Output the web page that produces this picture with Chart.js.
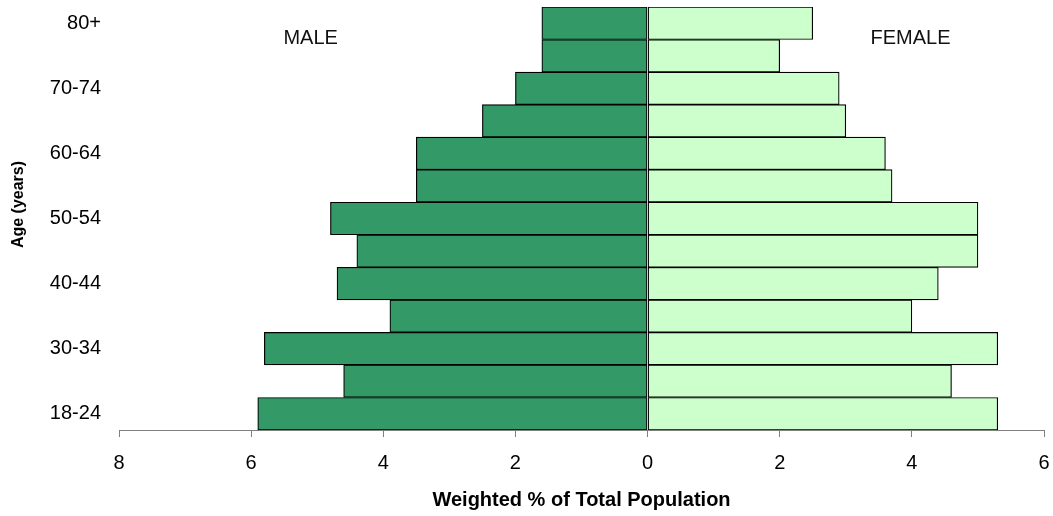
<!DOCTYPE html>
<html>
<head>
<meta charset="utf-8">
<script src="https://cdn.jsdelivr.net/npm/chart.js@4.4.0/dist/chart.umd.min.js"></script>
<style>
  html, body { margin: 0; padding: 0; background: #fff; }
  #wrap { width: 1053px; height: 516px; }
</style>
</head>
<body>
<div id="wrap"><canvas id="pyramid"></canvas></div>
<script>
// Age groups, youngest first (drawn at the bottom)
const ageGroups = ['18-24', '25-29', '30-34', '35-39', '40-44', '45-49', '50-54',
                   '55-59', '60-64', '65-69', '70-74', '75-79', '80+'];
// Weighted % of total population
const maleValues = [5.9, 4.6, 5.8, 3.9, 4.7, 4.4, 4.8, 3.5, 3.5, 2.5, 2.0, 1.6, 1.6];
const femaleValues = [5.3, 4.6, 5.3, 4.0, 4.4, 5.0, 5.0, 3.7, 3.6, 3.0, 2.9, 2.0, 2.5];
const xTicks = { min: -8, max: 6, step: 2 };

const FONT = "'Liberation Sans', Arial, sans-serif";
Chart.defaults.color = '#000';
Chart.defaults.font.family = FONT;

// MALE / FEMALE captions inside the plot, and the y axis title
const sideLabels = {
  id: 'sideLabels',
  afterDatasetsDraw(chart) {
    const { ctx, scales: { x }, chartArea } = chart;
    ctx.save();
    ctx.font = '20px ' + FONT;
    ctx.fillStyle = '#111';
    ctx.textAlign = 'center';
    ctx.textBaseline = 'middle';
    ctx.fillText('MALE', x.getPixelForValue(-5.1), chartArea.top + 31);
    ctx.fillText('FEMALE', x.getPixelForValue(3.98), chartArea.top + 31);

    // y title sits a little above the middle of the plot
    ctx.font = 'bold 16px ' + FONT;
    ctx.fillStyle = '#000';
    ctx.translate(19, (chartArea.top + chartArea.bottom) / 2 - 14);
    ctx.rotate(-Math.PI / 2);
    ctx.fillText('Age (years)', 0, 0);
    ctx.restore();
  }
};

function noPadding(scale) {
  scale.paddingTop = 0;
  scale.paddingBottom = 0;
  scale.paddingLeft = 0;
  scale.paddingRight = 0;
}

new Chart(document.getElementById('pyramid').getContext('2d'), {
  type: 'bar',
  data: {
    labels: ageGroups,
    datasets: [
      {
        label: 'Male',
        data: maleValues.map(v => -v),
        backgroundColor: '#339966',
        borderColor: '#000',
        borderWidth: 1.2,
        borderSkipped: false,
        barPercentage: 1,
        categoryPercentage: 1
      },
      {
        label: 'Female',
        data: femaleValues,
        backgroundColor: '#CCFFCC',
        borderColor: '#000',
        borderWidth: 1.2,
        borderSkipped: false,
        barPercentage: 1,
        categoryPercentage: 1
      }
    ]
  },
  options: {
    indexAxis: 'y',
    responsive: true,
    maintainAspectRatio: false,
    animation: false,
    layout: { padding: { top: 7, right: 9, left: 0, bottom: 0 } },
    plugins: {
      legend: { display: false },
      tooltip: { enabled: false }
    },
    scales: {
      x: {
        stacked: true,
        min: xTicks.min,
        max: xTicks.max,
        afterFit: scale => { scale.height = 86; noPadding(scale); },
        ticks: {
          stepSize: xTicks.step,
          padding: 14,
          font: { size: 20 },
          callback: v => Math.abs(v)
        },
        grid: {
          display: true,
          drawOnChartArea: false,
          drawTicks: true,
          tickLength: 7,
          color: '#808080'
        },
        border: { display: true, color: '#808080', width: 1 },
        title: {
          display: true,
          text: 'Weighted % of Total Population',
          font: { size: 20, weight: 'bold' },
          padding: { top: 0, bottom: 4 }
        }
      },
      y: {
        stacked: true,
        reverse: true,
        afterFit: scale => { scale.width = 119; noPadding(scale); },
        ticks: {
          autoSkip: false,
          padding: 18,
          font: { size: 20 },
          callback: function (value, index) {
            return index % 2 === 0 ? this.getLabelForValue(value) : '';
          }
        },
        grid: { display: false, drawTicks: false },
        border: { display: false }
      }
    }
  },
  plugins: [sideLabels]
});
</script>
</body>
</html>
